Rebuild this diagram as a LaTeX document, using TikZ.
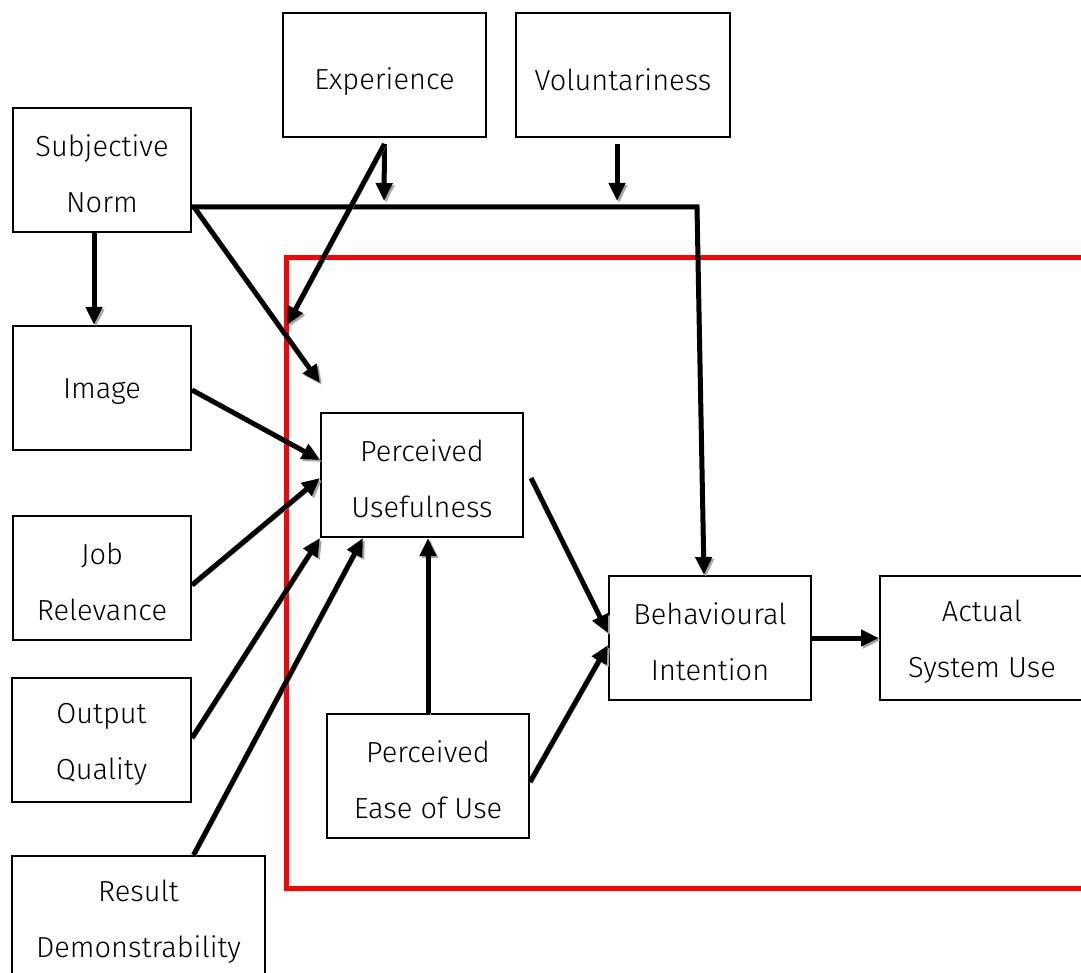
\documentclass[tikz,border=0pt]{standalone}
\usepackage{fontspec}
\setmainfont{Fira Sans Light}
\usetikzlibrary{arrows.meta,calc}
\begin{document}
\begin{tikzpicture}[x=1pt,y=-1pt,
  box/.style={draw, fill=white, line width=2pt, minimum height=124pt,
    inner sep=0pt},
  txt/.style={align=center, inner sep=0pt, yshift=-4pt,
    font=\fontsize{29}{56}\selectfont},
  link/.style={line width=5pt, -{Triangle[length=18pt,width=16pt]},
    preaction={draw=black!35, transform canvas={shift={(2pt,-2pt)}}}},
  frame/.style={draw=red, line width=5pt}]
\useasboundingbox (0,0) rectangle (1081,973);
\clip (0,0) rectangle (1081,973);

% framed core of the model
\draw[frame] (286,258) rectangle (1110,888);

% constructs
\node[box, minimum width=178pt, label={[txt]center:{Subjective\\Norm}}] (sn) at (102,170) {};
\node[box, minimum width=178pt, label={[txt]center:Image}] (img) at (102,388) {};
\node[box, minimum width=178pt, label={[txt]center:{Job\\Relevance}}] (jr) at (102,578) {};
\node[box, minimum width=179pt, label={[txt]center:{Output\\Quality}}] (oq) at (101.5,740) {};
\node[box, minimum width=253pt, label={[txt]center:{Result\\Demonstrability}}] (rd) at (138.5,918) {};
\node[box, minimum width=203pt, label={[txt, yshift=-3pt]center:Experience}] (exp) at (384.5,75) {};
\node[box, minimum width=214pt, label={[txt, yshift=-1pt]center:Voluntariness}] (vol) at (623,75) {};
\node[box, minimum width=202pt, label={[txt]center:{Perceived\\Usefulness}}] (pu) at (422,475) {};
\node[box, minimum width=202pt, label={[txt]center:{Perceived\\Ease of Use}}] (peou) at (428,776) {};
\node[box, minimum width=202pt, label={[txt]center:{Behavioural\\Intention}}] (bi) at (710,638) {};
\node[box, minimum width=204pt, label={[txt]center:{Actual\\System Use}}] (asu) at (982,638) {};

% free ends of the moderating arrows
\coordinate (bend)   at (697,207);
\coordinate (expA)   at (384,201);
\coordinate (volA)   at (617,201);
\coordinate (snTip)  at (320,383);
\coordinate (expTip) at (287,325);

% subjective norm
\draw[link] ($(sn.south)+(-8,0)$) -- (img.north -| {$(sn.south)+(-8,0)$});
\draw[link] ($(sn.east)+(0,37)$) -- (bend) -- ($(bi.north)+(-6,0)$);
\draw[link] ($(sn.east)+(2,37)$) -- (snTip);

% experience and voluntariness
\draw[link] ($(exp.south)+(0,6)$) -- (expA);
\draw[link] ($(exp.south)+(0,6)$) -- (expTip);
\draw[link] ($(vol.south)+(-6,6)$) -- (volA);

% determinants of perceived usefulness
\draw[link] ($(img.east)+(0,2)$) -- ($(pu.west)+(0,-15)$);
\draw[link] ($(jr.east)+(0,7)$) -- ($(pu.west)+(0,3)$);
\draw[link] ($(oq.east)+(0,-2)$) -- (pu.south west);
\draw[link] ($(rd.north)+(55,0)$) -- ($(pu.south)+(-59,0)$);
\draw[link] (peou.north) -- (peou.north |- pu.south);

% intention and use
\draw[link] ($(pu.east)+(7,3)$) -- ($(bi.west)+(0,-5)$);
\draw[link] ($(peou.east)+(0,6)$) -- ($(bi.west)+(0,7)$);
\draw[link] (bi.east) -- (asu.west);
\end{tikzpicture}
\end{document}
